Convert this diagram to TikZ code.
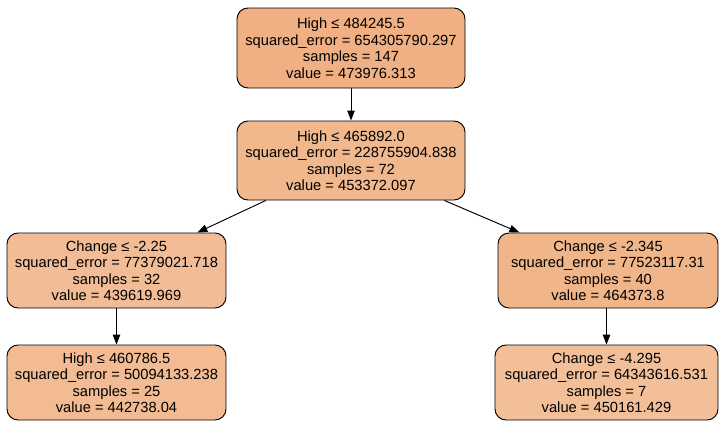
\documentclass[tikz,border=0pt]{standalone}
\usepackage{fontspec}
\setmainfont{Liberation Sans}
\usetikzlibrary{arrows.meta}
\definecolor{fillA}{RGB}{240,176,131}
\definecolor{fillB}{RGB}{241,184,142}
\definecolor{fillC}{RGB}{242,189,150}
\definecolor{fillD}{RGB}{241,181,138}
\definecolor{fillE}{RGB}{242,187,147}
\definecolor{fillF}{RGB}{242,191,153}
\tikzset{
  treenode/.style={draw=black, line width=0.95pt, rounded corners=11pt,
    align=center, inner sep=0pt,
    font=\fontsize{14.7}{16.5}\selectfont},
  edge/.style={line width=0.95pt, -{Triangle[length=10pt,width=7.5pt]}}
}
\begin{document}
\begin{tikzpicture}[x=1pt,y=-1pt]
  \useasboundingbox (0,0) rectangle (721,431);
  \node[treenode, fill=fillA, minimum width=228pt, minimum height=80pt] (root) at (351,48)
    {High ≤ 484245.5\\squared\_error = 654305790.297\\samples = 147\\value = 473976.313};
  \node[treenode, fill=fillB, minimum width=228pt, minimum height=79pt] (mid) at (351,160.5)
    {High ≤ 465892.0\\squared\_error = 228755904.838\\samples = 72\\value = 453372.097};
  \node[treenode, fill=fillC, minimum width=219pt, minimum height=75pt] (left) at (116.5,270.5)
    {Change ≤ -2.25\\squared\_error = 77379021.718\\samples = 32\\value = 439619.969};
  \node[treenode, fill=fillD, minimum width=220pt, minimum height=75pt] (right) at (608,270.5)
    {Change ≤ -2.345\\squared\_error = 77523117.31\\samples = 40\\value = 464373.8};
  \node[treenode, fill=fillE, minimum width=219pt, minimum height=75pt] (leftleaf) at (116.5,382.5)
    {High ≤ 460786.5\\squared\_error = 50094133.238\\samples = 25\\value = 442738.04};
  \node[treenode, fill=fillF, minimum width=223pt, minimum height=75pt] (rightleaf) at (606.5,382.5)
    {Change ≤ -4.295\\squared\_error = 64343616.531\\samples = 7\\value = 450161.429};
  \draw[edge] (root) -- (mid);
  \draw[edge] (mid) -- (left);
  \draw[edge] (mid) -- (right);
  \draw[edge] (left) -- (leftleaf);
  \draw[edge] (right.south -| rightleaf.north) -- (rightleaf.north);
\end{tikzpicture}
\end{document}
